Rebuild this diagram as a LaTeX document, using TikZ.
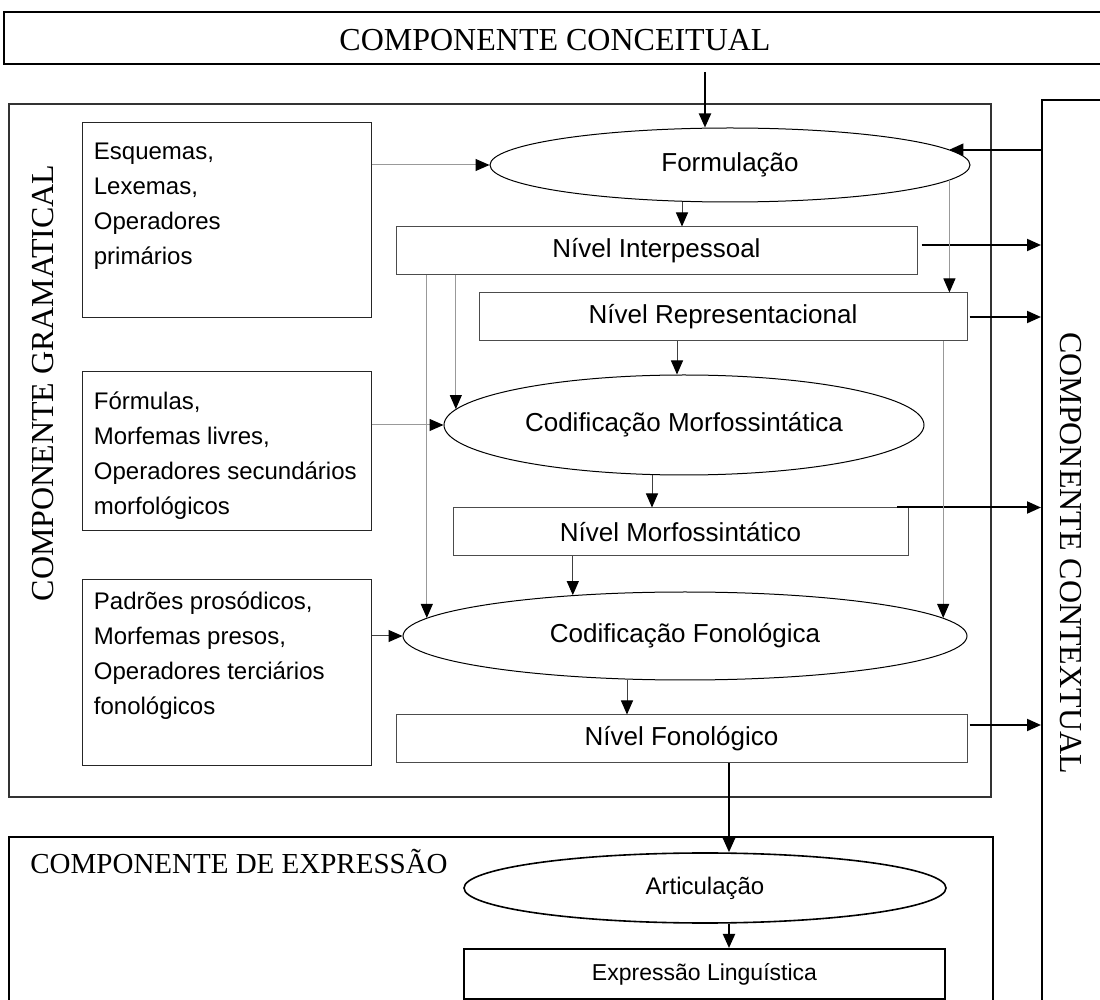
\documentclass[tikz,border=0pt]{standalone}
\usepackage{fontspec}
\setmainfont{Liberation Serif}
\setsansfont{Liberation Sans}
\usetikzlibrary{shapes.geometric,arrows.meta,calc}
\begin{document}
\begin{tikzpicture}[x=0.5pt,y=-0.5pt,
  tip/.style={-{Triangle[length=7pt,width=6pt,black]}},
  thinarr/.style={tip, line width=0.5pt, draw=black!75},
  greyarr/.style={tip, line width=0.5pt, draw=black!40},
  thickarr/.style={tip, line width=1pt, draw=black},
  sansf/.style={font=\sffamily\fontsize{13pt}{15pt}\selectfont},
  lvl/.style={sansf, draw=black!70, line width=0.5pt, rectangle, inner sep=0pt, minimum height=24pt},
  proc/.style={sansf, draw=black, line width=0.5pt, ellipse, inner sep=0pt},
  srcbox/.style={draw=black!85, line width=0.5pt, rectangle, inner sep=0pt, minimum width=144.5pt},
  srctext/.style={anchor=north west, inner sep=0pt, align=left, font=\sffamily\fontsize{12pt}{17.5pt}\selectfont},
  compbox/.style={rectangle, inner sep=0pt},
  comp/.style={inner sep=0pt, font=\fontsize{16pt}{18pt}\selectfont}
]
\useasboundingbox (0,0) rectangle (1100,1000);
\clip (0,0) rectangle (1100,1000);

% outer components
\node[compbox, draw=black, line width=1pt, minimum width=568pt, minimum height=26pt] (conc) at (572,38) {};
\node[comp] (conclabel) at (555,40) {COMPONENTE CONCEITUAL};

\node[compbox, draw=black!80, line width=0.6pt, minimum width=491pt, minimum height=346.5pt] (gram) at (500,450.5) {};
\node[comp, rotate=90] (gramlabel) at (43,383) {COMPONENTE GRAMATICAL};

\node[compbox, draw=black, line width=1pt, minimum width=49pt, minimum height=470pt] (ctx) at (1091,570) {};
\node[comp, rotate=-90] (ctxlabel) at (1071,553) {COMPONENTE CONTEXTUAL};

\node[compbox, draw=black, line width=0.8pt, minimum width=492pt, minimum height=101.5pt] (expr) at (501,938.5) {};
\node[comp, anchor=base west, font=\fontsize{14.5pt}{17pt}\selectfont] (exprlabel) at (30,874) {COMPONENTE DE EXPRESSÃO};

% source boxes
\node[srcbox, minimum height=97.5pt] (esq) at (226.5,220.5) {};
\node[srctext] (esqtext) at ($(esq.north west)+(12,20)$) {Esquemas,\\Lexemas,\\Operadores\\primários};

\node[srcbox, minimum height=79.5pt] (formulas) at (226.5,451.5) {};
\node[srctext] (formulastext) at ($(formulas.north west)+(12,20)$) {Fórmulas,\\Morfemas livres,\\Operadores secundários\\morfológicos};

\node[srcbox, minimum height=93pt] (padr) at (226.5,673) {};
\node[srctext] (padrtext) at ($(padr.north west)+(12,12)$) {Padrões prosódicos,\\Morfemas presos,\\Operadores terciários\\fonológicos};

% processes and levels
\node[proc, minimum width=240pt, minimum height=37pt] (form) at (730,165) {Formulação};
\node[lvl, minimum width=260.5pt] (nint) at (656.5,251) {Nível Interpessoal};
\node[lvl, minimum width=244pt] (nrep) at (723,317) {Nível Representacional};
\node[proc, minimum width=240pt, minimum height=50pt] (cm) at (684,425) {Codificação Morfossintática};
\node[lvl, minimum width=227.5pt] (nmor) at (680.5,532) {Nível Morfossintático};
\node[proc, minimum width=282pt, minimum height=44pt] (cf) at (685,636) {Codificação Fonológica};
\node[lvl, minimum width=285.5pt] (nfon) at (681.5,739) {Nível Fonológico};
\node[proc, line width=0.8pt, minimum width=241pt, minimum height=35pt, font=\sffamily\fontsize{12pt}{14pt}\selectfont] (art) at (705,888) {Articulação};
\node[lvl, draw=black, line width=1pt, minimum width=240.5pt, minimum height=25pt, font=\sffamily\fontsize{11.5pt}{14pt}\selectfont] (el) at (704.5,974) {Expressão Linguística};

% connectors
\draw[thickarr] ($(conc.south -| 705,0)+(0,7)$) -- (form.north -| 705,0);
\draw[greyarr] (esq.east |- form.west) -- (form.west);
\draw[thickarr] (ctx.west |- form.4) -- (form.4);
\draw[thinarr] (form.south -| 682,0) -- (nint.north -| 682,0);
\draw[thickarr] ([xshift=2pt,yshift=3pt]nint.east) -- ([yshift=3pt]nint.east -| ctx.west);
\draw[greyarr] (form.-4) -- (form.-4 |- nrep.north);
\draw[thickarr] ([xshift=1pt]nrep.east) -- (nrep.east -| ctx.west);
\draw[thinarr] (nrep.south -| 677,0) -- (cm.north -| 677,0);
\draw[greyarr] (formulas.east |- cm.west) -- (cm.west);
\draw[greyarr] (nint.south -| cm.176) -- (cm.176);
\draw[greyarr] (nint.south -| cf.176.5) -- (cf.176.5);
\draw[thinarr] (cm.south -| 652,0) -- (nmor.north -| 652,0);
\draw[thickarr] (nmor.north -| 897,0) -- (nmor.north -| ctx.west);
\draw[thinarr] (nmor.south -| cf.160.6) -- (cf.160.6);
\draw[greyarr] (nrep.south -| cf.4) -- (cf.4);
\draw[thinarr] (padr.east |- cf.west) -- (cf.west);
\draw[thinarr] (cf.south -| 627,0) -- (nfon.north -| 627,0);
\draw[thickarr] ([xshift=1pt,yshift=7pt]nfon.east) -- ([yshift=7pt]nfon.east -| ctx.west);
\draw[thickarr] (nfon.south -| 729,0) -- (art.north -| 729,0);
\draw[thickarr] (art.south -| 729,0) -- (el.north -| 729,0);
\end{tikzpicture}
\end{document}
